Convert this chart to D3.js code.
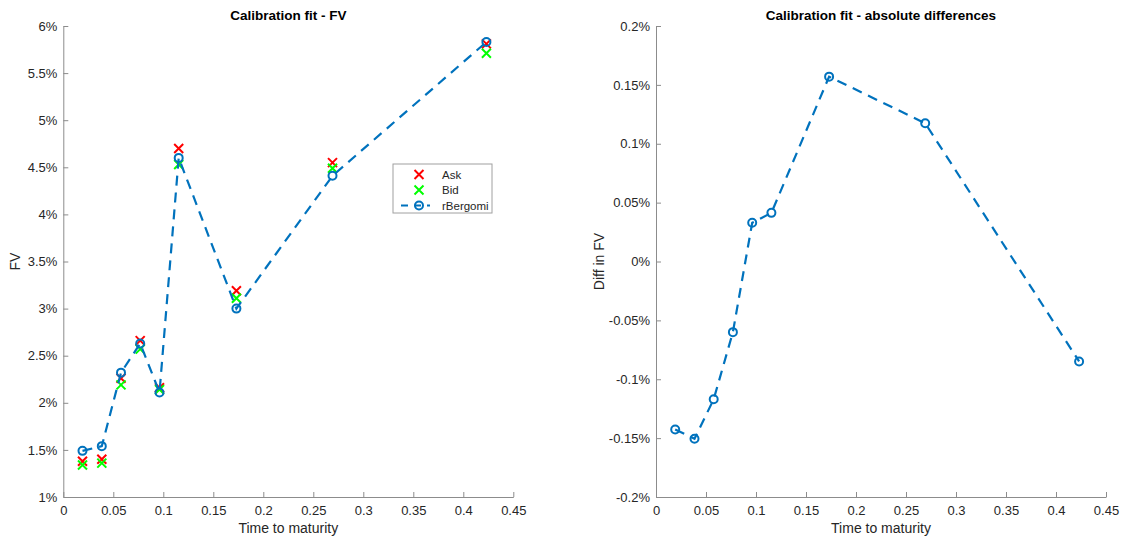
<!DOCTYPE html>
<html>
<head>
<meta charset="utf-8">
<script src="https://cdn.jsdelivr.net/npm/d3@7"></script>
<style>
  html, body { margin: 0; padding: 0; background: #fff; }
  svg { display: block; font-family: "Liberation Sans", Arial, Helvetica, sans-serif; }
</style>
</head>
<body>
<svg id="chart" width="1130" height="542"></svg>
<script>
// Maturities in years
const maturities = [0.0192, 0.0385, 0.0577, 0.0769, 0.0962, 0.1154, 0.1731, 0.2692, 0.4231];
// Market quotes and model fit, in percent
const askFV      = [1.38, 1.40, 2.26, 2.66, 2.16, 4.70, 3.19, 4.55, 5.81];
const bidFV      = [1.34, 1.36, 2.19, 2.57, 2.14, 4.53, 3.11, 4.49, 5.71];
const rBergomiFV = [1.49, 1.54, 2.32, 2.63, 2.11, 4.60, 3.00, 4.41, 5.83];
// Mid minus model, in percent
const diffFV     = [-0.1426, -0.1505, -0.1170, -0.0600, 0.0329, 0.0413, 0.1570, 0.1174, -0.0849];

const xTicks      = [0, 0.05, 0.1, 0.15, 0.2, 0.25, 0.3, 0.35, 0.4, 0.45];
const fvTicks     = [1, 1.5, 2, 2.5, 3, 3.5, 4, 4.5, 5, 5.5, 6];
const fvTickLbl   = ["1%", "1.5%", "2%", "2.5%", "3%", "3.5%", "4%", "4.5%", "5%", "5.5%", "6%"];
const diffTicks   = [-0.2, -0.15, -0.1, -0.05, 0, 0.05, 0.1, 0.15, 0.2];
const diffTickLbl = ["-0.2%", "-0.15%", "-0.1%", "-0.05%", "0%", "0.05%", "0.1%", "0.15%", "0.2%"];

const legendNames = ["Ask", "Bid", "rBergomi"];

const BLUE = "#0072BD", RED = "#FF0000", GREEN = "#00FF00";
const AXIS = "#8c8c8c", TEXT = "#262626";

const svg = d3.select("#chart");
const plotTop = 26, plotBottom = 497;

function makeAxes(left, right, yDomain, yTicks, yLabels, title, yTitle, yTitleX) {
  const x = d3.scaleLinear().domain([0, 0.45]).range([left, right]);
  const y = d3.scaleLinear().domain(yDomain).range([plotBottom, plotTop]);
  const g = svg.append("g");

  const xa = g.append("g").attr("transform", `translate(0,${plotBottom})`)
    .call(d3.axisBottom(x).tickValues(xTicks).tickFormat(d3.format("")).tickSizeInner(-5).tickSizeOuter(0).tickPadding(9));
  const ya = g.append("g").attr("transform", `translate(${left},0)`)
    .call(d3.axisLeft(y).tickValues(yTicks).tickFormat((d, i) => yLabels[i]).tickSizeInner(-5).tickSizeOuter(0).tickPadding(6));
  [xa, ya].forEach(a => {
    a.select(".domain").attr("stroke", AXIS).attr("stroke-width", 1);
    a.selectAll(".tick line").attr("stroke", AXIS);
    a.selectAll(".tick text").attr("fill", TEXT).attr("font-size", 13)
      .attr("font-family", "\"Liberation Sans\", Arial, sans-serif");
  });

  g.append("text").attr("x", (left + right) / 2).attr("y", 20)
    .attr("text-anchor", "middle").attr("font-weight", "bold").attr("font-size", 13.5)
    .attr("fill", "#000").text(title);
  g.append("text").attr("x", (left + right) / 2).attr("y", 533)
    .attr("text-anchor", "middle").attr("font-size", 14).attr("fill", TEXT).text("Time to maturity");
  g.append("text").attr("transform", `translate(${yTitleX},${(plotTop + plotBottom) / 2}) rotate(-90)`)
    .attr("text-anchor", "middle").attr("font-size", 14).attr("fill", TEXT).text(yTitle);
  return { g, x, y };
}

function crossPath(cx, cy, r) {
  return `M${cx - r},${cy - r}L${cx + r},${cy + r}M${cx - r},${cy + r}L${cx + r},${cy - r}`;
}

function drawModel(g, x, y, vals) {
  const pts = maturities.map((m, i) => [x(m), y(vals[i])]);
  g.append("path").attr("d", d3.line()(pts)).attr("fill", "none")
    .attr("stroke", BLUE).attr("stroke-width", 2.2).attr("stroke-dasharray", "10,7");
  g.selectAll(null).data(pts).enter().append("circle")
    .attr("cx", d => d[0]).attr("cy", d => d[1]).attr("r", 4)
    .attr("fill", "none").attr("stroke", BLUE).attr("stroke-width", 2);
}

function drawCrosses(g, x, y, vals, color) {
  g.selectAll(null).data(vals).enter().append("path")
    .attr("d", (v, i) => crossPath(x(maturities[i]), y(v), 4.5))
    .attr("stroke", color).attr("stroke-width", 2).attr("fill", "none");
}

// Left panel: fitted FV against bid/ask
const A = makeAxes(63.3, 513.3, [1, 6], fvTicks, fvTickLbl, "Calibration fit - FV", "FV", 20);
drawCrosses(A.g, A.x, A.y, askFV, RED);
drawCrosses(A.g, A.x, A.y, bidFV, GREEN);
drawModel(A.g, A.x, A.y, rBergomiFV);

// Legend
const lg = A.g.append("g").attr("transform", "translate(393,164)");
lg.append("rect").attr("width", 99).attr("height", 49).attr("fill", "#fff")
  .attr("stroke", "#a0a0a0").attr("stroke-width", 1);
const rowY = [10.5, 26, 41.5];
legendNames.forEach((name, i) => {
  const cy = rowY[i];
  if (i < 2) {
    lg.append("path").attr("d", crossPath(26, cy, 4.5))
      .attr("stroke", i === 0 ? RED : GREEN).attr("stroke-width", 2).attr("fill", "none");
  } else {
    lg.append("line").attr("x1", 8).attr("x2", 37).attr("y1", cy).attr("y2", cy)
      .attr("stroke", BLUE).attr("stroke-width", 2.2).attr("stroke-dasharray", "7,6");
    lg.append("circle").attr("cx", 26).attr("cy", cy).attr("r", 4)
      .attr("fill", "none").attr("stroke", BLUE).attr("stroke-width", 2);
  }
  lg.append("text").attr("x", 49).attr("y", cy + 4).attr("font-size", 11.5)
    .attr("fill", TEXT).text(name);
});

// Right panel: differences
const B = makeAxes(656, 1106, [-0.2, 0.2], diffTicks, diffTickLbl, "Calibration fit - absolute differences", "Diff in FV", 604);
drawModel(B.g, B.x, B.y, diffFV);
</script>
</body>
</html>
